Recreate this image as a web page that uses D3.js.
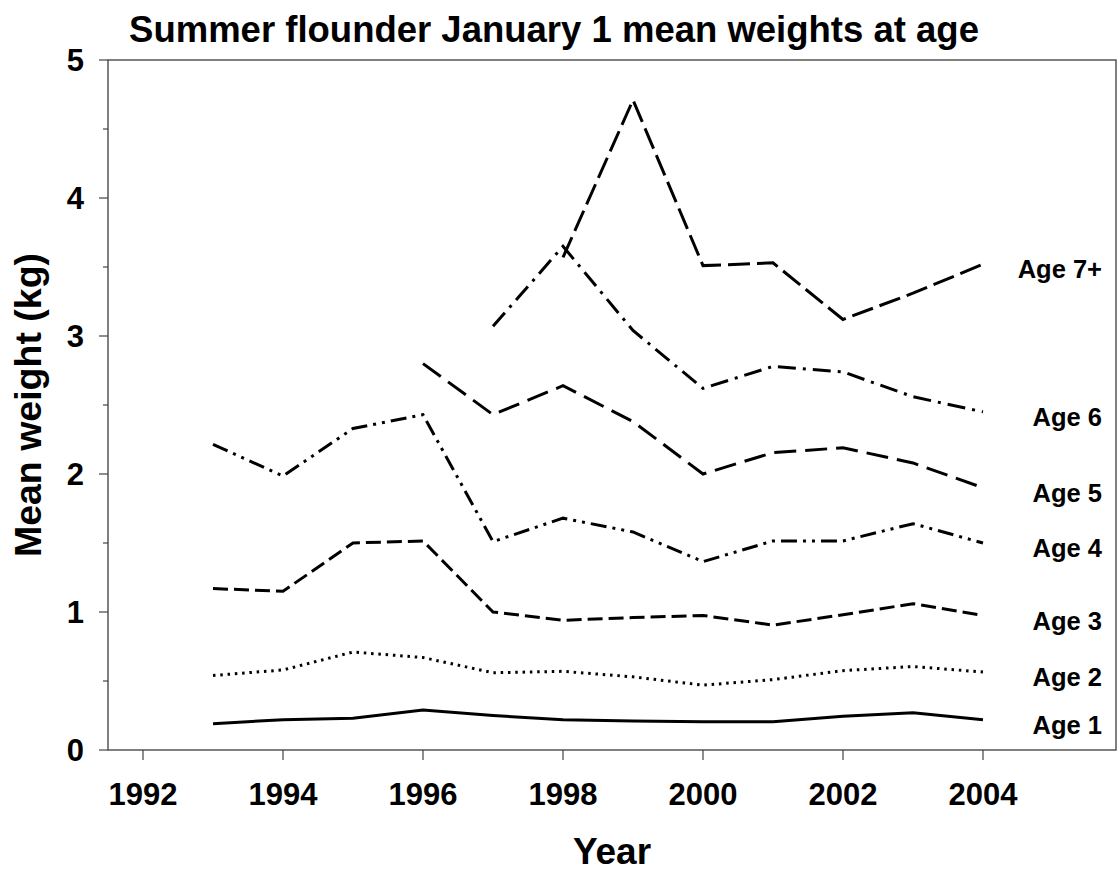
<!DOCTYPE html>
<html>
<head>
<meta charset="utf-8">
<script src="https://cdn.jsdelivr.net/npm/d3@7"></script>
<style>
  body { margin: 0; background: white; }
  text { font-family: "Liberation Sans", Arial, sans-serif; font-weight: bold; fill: black; }
</style>
</head>
<body>
<script>
// Mean weights (kg)
var age1Years = [1993, 1994, 1995, 1996, 1997, 1998, 1999, 2000, 2001, 2002, 2003, 2004]
var age1 = [0.19, 0.22, 0.23, 0.29, 0.25, 0.22, 0.21, 0.205, 0.205, 0.245, 0.27, 0.22]
var age2Years = age1Years
var age2 = [0.54, 0.58, 0.71, 0.67, 0.56, 0.57, 0.53, 0.47, 0.51, 0.575, 0.605, 0.565]
var age3Years = age1Years
var age3 = [1.17, 1.15, 1.50, 1.515, 1.0, 0.94, 0.96, 0.975, 0.905, 0.98, 1.06, 0.975]
var age4Years = age1Years
var age4 = [2.215, 1.985, 2.33, 2.43, 1.51, 1.68, 1.58, 1.365, 1.515, 1.515, 1.64, 1.50]
var age5Years = [1996, 1997, 1998, 1999, 2000, 2001, 2002, 2003, 2004]
var age5 = [2.80, 2.43, 2.64, 2.38, 2.0, 2.155, 2.19, 2.08, 1.90]
var age6Years = [1997, 1998, 1999, 2000, 2001, 2002, 2003, 2004]
var age6 = [3.07, 3.65, 3.04, 2.62, 2.78, 2.74, 2.56, 2.45]
var age7Years = [1998, 1999, 2000, 2001, 2002, 2003, 2004]
var age7 = [3.57, 4.71, 3.51, 3.53, 3.12, 3.31, 3.52]

var seriesNames = ["Age 1", "Age 2", "Age 3", "Age 4", "Age 5", "Age 6", "Age 7+"]
var xTicks = [1992, 1994, 1996, 1998, 2000, 2002, 2004]
var yTicks = [0, 1, 2, 3, 4, 5]
var yMinorTicks = [0.5, 1.5, 2.5, 3.5, 4.5]

var series = [
	{ name: seriesNames[0], years: age1Years, values: age1, dash: null, width: 3 },
	{ name: seriesNames[1], years: age2Years, values: age2, dash: "2.5,4.8", width: 3 },
	{ name: seriesNames[2], years: age3Years, values: age3, dash: "15,6", width: 3 },
	{ name: seriesNames[3], years: age4Years, values: age4, dash: "16,6,3,6,3,6", width: 3 },
	{ name: seriesNames[4], years: age5Years, values: age5, dash: "22,9", width: 3 },
	{ name: seriesNames[5], years: age6Years, values: age6, dash: "18,7,3,7", width: 3 },
	{ name: seriesNames[6], years: age7Years, values: age7, dash: "22,7", width: 3 }
]

var width = 1118, height = 872
var plot = { left: 108, top: 60, right: 1116, bottom: 750 }

var svg = d3.select("body").append("svg")
	.attr("width", width)
	.attr("height", height)

var x = d3.scaleLinear().domain([1991.5, 2005.9]).range([plot.left, plot.right])
var y = d3.scaleLinear().domain([0, 5]).range([plot.bottom, plot.top])

// frame
svg.append("rect")
	.attr("x", plot.left).attr("y", plot.top)
	.attr("width", plot.right - plot.left).attr("height", plot.bottom - plot.top)
	.attr("fill", "none").attr("stroke", "#555").attr("stroke-width", 1.5)

// x axis ticks + labels
var xAxis = svg.append("g").attr("transform", "translate(0," + plot.bottom + ")")
xAxis.selectAll("line").data(xTicks).enter().append("line")
	.attr("x1", function(d) { return x(d) }).attr("x2", function(d) { return x(d) })
	.attr("y1", 0).attr("y2", 10)
	.attr("stroke", "#444").attr("stroke-width", 1.2)
xAxis.selectAll("text").data(xTicks).enter().append("text")
	.attr("x", function(d) { return x(d) }).attr("y", 55)
	.attr("text-anchor", "middle").style("font-size", "31px")
	.text(function(d) { return d })

// y axis ticks + labels
var yAxis = svg.append("g").attr("transform", "translate(" + plot.left + ",0)")
yAxis.selectAll("line.major").data(yTicks).enter().append("line").attr("class", "major")
	.attr("x1", -9).attr("x2", 0)
	.attr("y1", function(d) { return y(d) }).attr("y2", function(d) { return y(d) })
	.attr("stroke", "#444").attr("stroke-width", 1.2)
yAxis.selectAll("line.minor").data(yMinorTicks).enter().append("line").attr("class", "minor")
	.attr("x1", -5).attr("x2", 0)
	.attr("y1", function(d) { return y(d) }).attr("y2", function(d) { return y(d) })
	.attr("stroke", "#444").attr("stroke-width", 1.2)
yAxis.selectAll("text").data(yTicks).enter().append("text")
	.attr("x", -24).attr("y", function(d) { return y(d) })
	.attr("dy", "0.36em")
	.attr("text-anchor", "end").style("font-size", "31px")
	.text(function(d) { return d })

// lines
var line = d3.line()
	.x(function(d) { return x(d[0]) })
	.y(function(d) { return y(d[1]) })

series.forEach(function(s) {
	var pts = s.years.map(function(yr, i) { return [yr, s.values[i]] })
	svg.append("path")
		.attr("d", line(pts))
		.attr("fill", "none")
		.attr("stroke", "black")
		.attr("stroke-width", s.width)
		.attr("stroke-linejoin", "miter")
		.attr("stroke-dasharray", s.dash)

	var last = pts[pts.length - 1]
	svg.append("text")
		.attr("x", 1102)
		.attr("y", y(last[1]) + 5)
		.attr("dy", "0.36em")
		.attr("text-anchor", "end")
		.style("font-size", "25.5px")
		.text(s.name)
})

// titles
svg.append("text")
	.attr("x", 554).attr("y", 42)
	.attr("text-anchor", "middle").style("font-size", "36.5px")
	.text("Summer flounder January 1 mean weights at age")

svg.append("text")
	.attr("x", (plot.left + plot.right) / 2).attr("y", 864)
	.attr("text-anchor", "middle").style("font-size", "37px")
	.text("Year")

svg.append("text")
	.attr("transform", "translate(41," + 405 + ") rotate(-90)")
	.attr("text-anchor", "middle").style("font-size", "37.5px")
	.text("Mean weight (kg)")
</script>
</body>
</html>
